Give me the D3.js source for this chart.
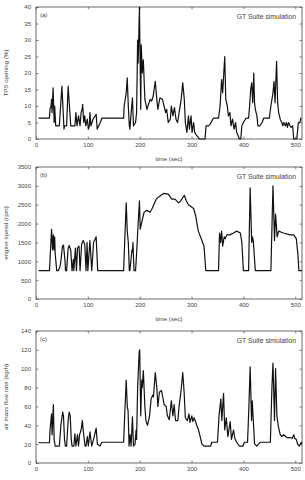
<!DOCTYPE html>
<html>
<head>
<meta charset="utf-8">
<script src="https://cdn.jsdelivr.net/npm/d3@7"></script>
<style>
  body { margin: 0; background: #fff; }
  svg text { font-family: "Liberation Sans", Arial, sans-serif; fill: #444; }
</style>
</head>
<body>
<svg id="chart" width="305" height="480"></svg>
<script>
// time axis (s)
const timeTicks = [0, 100, 200, 300, 400, 500];

// (a) TPS opening (%) : [time, value]
const tpsData = [
  [5,6.3],[26,6.3],[27,9],[29,10],[30,12],[31,8],[33,15.5],[35,5],[36,10],[38,4],[45,4],[50,16],[54,3],[55,4],
  [59,4],[62,16],[67,4],[75,4],[77,8],[79,4],[82,7],[85,4],[87,8],[89,9],[90,10.5],[92,5],[94,7],[96,4],[99,6],
  [101,3],[103,4],[104,8],[106,4],[110,6],[116,7.5],[118,3],[121,4],[124,5],[127,6.3],[169,6.3],[170,10],[174,14],
  [176,18.5],[178,10],[180,4],[181,3],[183,7],[186,12.5],[188,4],[192,5],[194,8],[196,30],[197,23],[199.5,40],
  [202,9],[203,28.5],[205,20],[207,24],[210,12],[214,9],[220,12],[223,11.5],[226,13],[230,17.5],[233,12],[235,9],
  [239,12.5],[244,12],[247,10],[250,8],[252,9],[255,5],[259,6],[261,10],[264,7],[267,9.5],[270,6],[273,5],[277,9],
  [280,12],[283,17],[286,12],[288,5],[291,2],[294,7],[296,3],[299,7],[301,2],[304,5],[306,2],[310,1],[313,0.5],
  [315,0],[326,0],[328,4],[333,4],[336,4.5],[342,6.3],[352,6.3],[355,10],[358,18],[360,14],[364,25],[366,12],
  [369,10],[371,7],[374,8],[376,4],[379,6],[382,3],[385,5],[387,2],[390,1],[392,0],[395,0],[397,4],[400,5],
  [405,6.3],[410,6.3],[412,10],[414,15],[416,17],[418,11],[420,20],[421.5,11],[423,9],[426,7],[428,4],[432,4],
  [436,5],[439,6.3],[450,6.3],[453,10],[457,14],[459,17.5],[461,11],[464,23.5],[466,11],[468,8],[471,6],[474,5],
  [476,4],[478,5],[481,4],[483,5],[485,3.5],[487,5],[490,4],[492,3.5],[495,4],[497,0],[503,0],[506,5],[509,5],[511,6.5]
];

// (b) engine speed (rpm)
const rpmData = [
  [5,750],[26,750],[30,1850],[32,1300],[33.5,1700],[35,1300],[36,1650],[37,1200],[40,750],[43,750],[46,850],
  [48,1000],[51,1400],[53,1430],[56,1000],[57,750],[59,750],[62,1350],[64,1420],[67,1300],[69.5,750],[72,1050],
  [73,750],[76,1350],[78,750],[80,1350],[83,1400],[85,750],[88,1450],[91,1550],[94,1450],[96.5,750],[98.5,1500],
  [100,750],[104,1550],[107.5,750],[111,1500],[116,1650],[119,750],[169,750],[171,1500],[174,2550],[176,1800],
  [178,1500],[180,750],[181,750],[185,1300],[186,1250],[187,1500],[189,750],[192,750],[194,1200],[197,2000],
  [199.5,2600],[201,1850],[205,2100],[208.5,2300],[214,2350],[220,2300],[224,2400],[232,2650],[236,2700],
  [246,2800],[255,2780],[262,2650],[268,2650],[275,2550],[279,2600],[286,2750],[290,2600],[294,2500],[304,2400],
  [308,2200],[313,1800],[320,1550],[324,1400],[327.5,750],[352,750],[354,1750],[356,1500],[358,1800],[360,1400],
  [363,1650],[365,1600],[368,1700],[374,1700],[381,1750],[387,1800],[394,1750],[397,1500],[400,750],[410,750],
  [413,2950],[416,1500],[417.5,1650],[419,1550],[423,750],[453,750],[457,3000],[460,1550],[462,2250],[465,1650],
  [468,1800],[477,1750],[490,1700],[497,1700],[502,1600],[505,1200],[507,750],[513,750]
];

// (c) air mass flow rate (kg/h)
const airData = [
  [5,21.5],[26,21.5],[27,35],[30,52],[31,30],[33.5,62],[35,25],[37,18],[45,18],[48,40],[51.5,54],[53,50],[55,25],
  [56.6,18],[59,18],[62,45],[64,54],[66,50],[68,25],[69.5,18],[73,18],[75,31],[77,18],[80,30],[82,18],[84,30],
  [87,35],[89.4,45],[91,35],[94.6,18],[96.5,18],[99,28],[101,18],[104,33],[107.5,18],[111,25],[116,37],[118.4,20],
  [123.6,18],[127,22],[169,22],[171,50],[174,88],[176,60],[177.6,55],[179.5,18],[181.5,30],[183.4,18],[186,49],
  [188,18],[191,20],[193,35],[194,25],[196,80],[199,118],[200,120],[202,50],[204,88],[205,80],[207,98],[210,60],
  [212,45],[215,40],[219,50],[222,68],[225,72],[226.5,70],[230,96],[233,80],[235,60],[238,75],[242,77],[244.5,70],
  [247,62],[251,60],[253.5,50],[257,46],[261,66],[264,50],[266.5,62],[269,45],[273.5,45],[276,60],[280,78],
  [283,96],[285.7,75],[288,48],[292,45],[295,52],[297,43],[300.5,50],[302.4,44],[305,48],[307.6,44],[310,40],
  [313.4,35],[316.6,28],[320,20],[324,18],[337,18],[339,22],[350,22],[353,50],[356.5,68],[358.4,45],[361.7,74],
  [364,35],[367,48],[370,28],[374.5,44],[377,25],[381,35],[383.5,26],[387,22],[392,18],[399,18],[402,22],[408,22],
  [410.6,60],[413,102],[415.7,45],[417,66],[419.6,40],[421.5,20],[426,18],[432,22],[452,22],[455,80],[457,106],
  [460,45],[462,100],[464.6,50],[467,40],[471,30],[474,28],[477.5,30],[484,27],[490,27],[494,26],[497,30],
  [499,26],[502,25],[504.5,20],[508,18],[511.6,22],[513,20]
];

const panels = [
  { data: tpsData, tag: "(a)", yLabel: "TPS opening  (%)", yMax: 40, yStep: 5, top: 7, xLabel: true },
  { data: rpmData, tag: "(b)", yLabel: "engine speed (rpm)", yMax: 3500, yStep: 500, top: 167, xLabel: true },
  { data: airData, tag: "(c)", yLabel: "air mass flow rate (kg/h)", yMax: 140, yStep: 20, top: 331, xLabel: false }
];

const svg = d3.select("#chart");
const left = 36, right = 302, plotH = 132, tickLen = 2.5;

const x = d3.scaleLinear().domain([0, 513]).range([left, right]);

panels.forEach(p => {
  const y = d3.scaleLinear().domain([0, p.yMax]).range([p.top + plotH, p.top]);
  const yTicks = d3.range(0, p.yMax + 0.001, p.yStep);
  const g = svg.append("g");

  // axes with inward ticks (gnuplot style)
  g.append("g")
    .attr("transform", `translate(0,${p.top + plotH})`)
    .call(d3.axisBottom(x).tickValues(timeTicks).tickSizeInner(-tickLen).tickSizeOuter(0).tickPadding(4))
    .call(a => a.select(".domain").remove())
    .call(a => a.selectAll("text").attr("font-size", 6).attr("fill", "#444"));
  g.append("g")
    .attr("transform", `translate(0,${p.top})`)
    .call(d3.axisTop(x).tickValues(timeTicks).tickSizeInner(-tickLen).tickSizeOuter(0).tickFormat(""))
    .call(a => a.select(".domain").remove());
  g.append("g")
    .attr("transform", `translate(${left},0)`)
    .call(d3.axisLeft(y).tickValues(yTicks).tickFormat(d3.format("d"))
      .tickSizeInner(-tickLen).tickSizeOuter(0).tickPadding(5))
    .call(a => a.select(".domain").remove())
    .call(a => a.selectAll("text").attr("font-size", 6).attr("fill", "#444"));
  g.append("g")
    .attr("transform", `translate(${right},0)`)
    .call(d3.axisRight(y).tickValues(yTicks).tickSizeInner(-tickLen).tickSizeOuter(0).tickFormat(""))
    .call(a => a.select(".domain").remove());
  g.selectAll(".tick line").attr("stroke", "#555").attr("stroke-width", 0.7);

  // frame
  g.append("rect")
    .attr("x", left).attr("y", p.top)
    .attr("width", right - left).attr("height", plotH)
    .attr("fill", "none").attr("stroke", "#444").attr("stroke-width", 0.8);

  // series
  const line = d3.line().x(d => x(d[0])).y(d => y(d[1]));
  g.append("path")
    .datum(p.data)
    .attr("d", line)
    .attr("fill", "none")
    .attr("stroke", "#111")
    .attr("stroke-width", 1.2)
    .attr("stroke-linejoin", "round");

  g.append("text")
    .attr("x", left + 4).attr("y", p.top + 10)
    .attr("font-size", 6).text(p.tag);
  g.append("text")
    .attr("x", right - 6).attr("y", p.top + 12)
    .attr("text-anchor", "end").attr("font-size", 6.8)
    .text("GT Suite simulation");

  g.append("text")
    .attr("transform", `translate(8,${p.top + plotH / 2}) rotate(-90)`)
    .attr("text-anchor", "middle").attr("font-size", 6.2)
    .text(p.yLabel);

  if (p.xLabel) {
    g.append("text")
      .attr("x", (left + right) / 2).attr("y", p.top + plotH + 22)
      .attr("text-anchor", "middle").attr("font-size", 6.2)
      .text("time (sec)");
  }
});
</script>
</body>
</html>
